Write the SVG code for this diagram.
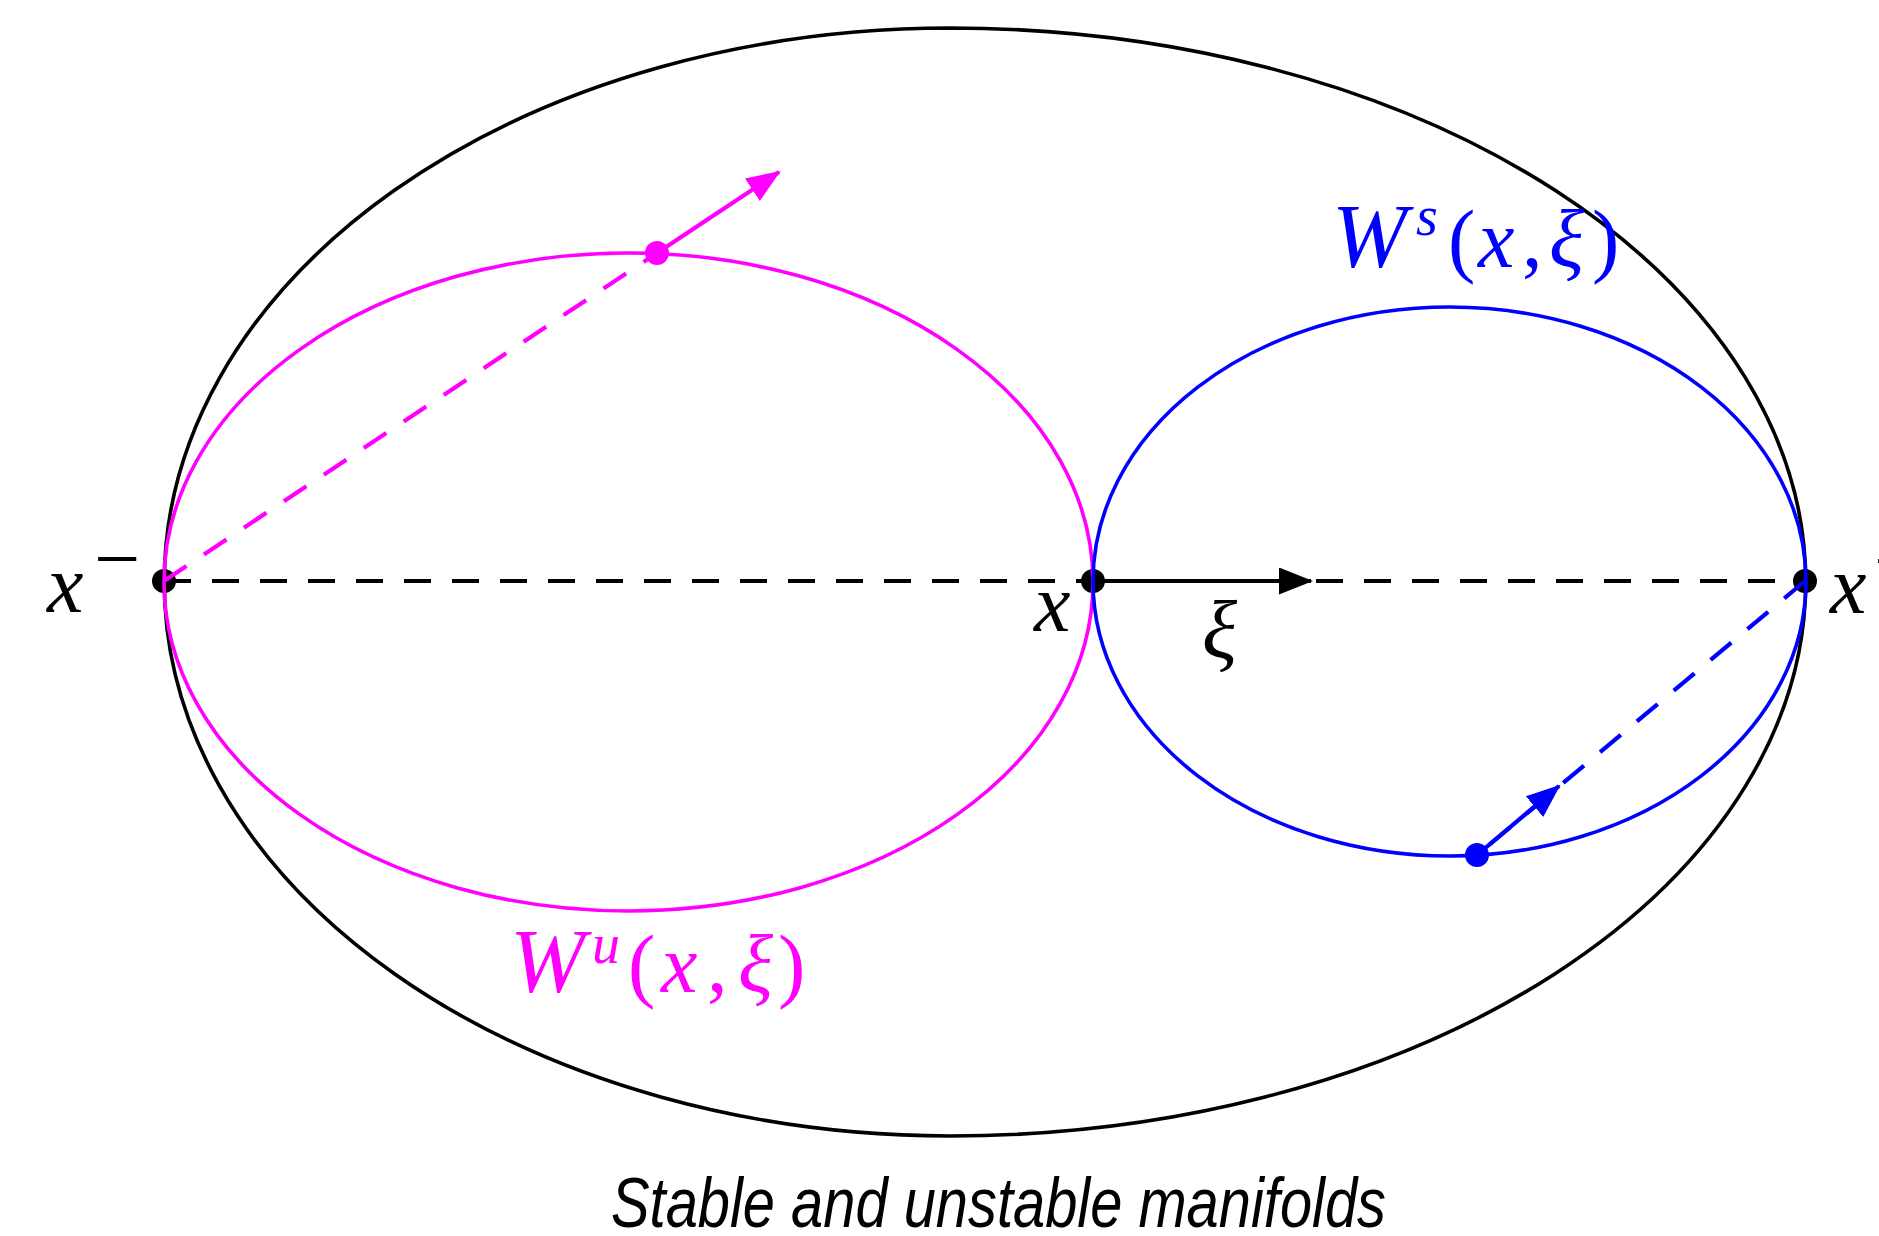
<svg xmlns="http://www.w3.org/2000/svg" width="1879" height="1236" viewBox="0 0 1879 1236">
<style>
.curve{fill:none;stroke-width:3.6}
.dash{fill:none;stroke-width:4.2;stroke-dasharray:27 21}
.vec{fill:none;stroke-width:4.2}
.math{font-family:"Liberation Serif","DejaVu Serif",serif;font-size:82px}
.it{font-style:italic}
.up{font-style:normal}
.title{font-family:"Liberation Sans","DejaVu Sans",sans-serif;font-style:italic;font-size:70px;fill:#000}
</style>
<defs>
<marker id="ahK" viewBox="0 0 34 27" refX="32" refY="13.5" markerWidth="34" markerHeight="27" markerUnits="userSpaceOnUse" orient="auto"><path d="M0,0 L34,13.5 L0,27 Z" fill="#000"/></marker>
<marker id="ahM" viewBox="0 0 34 27" refX="32" refY="13.5" markerWidth="34" markerHeight="27" markerUnits="userSpaceOnUse" orient="auto"><path d="M0,0 L34,13.5 L0,27 Z" fill="#ff00ff"/></marker>
<marker id="ahB" viewBox="0 0 34 27" refX="32" refY="13.5" markerWidth="34" markerHeight="27" markerUnits="userSpaceOnUse" orient="auto"><path d="M0,0 L34,13.5 L0,27 Z" fill="#0000ff"/></marker>
</defs>
<rect width="1879" height="1236" fill="#fff"/>
<g id="outer"><path class="curve" stroke="#000" d="M950,28 A856,554 0 0 1 950,1136 A786,554 0 0 1 950,28 Z"/></g>
<g id="connectors">
<line class="dash" stroke="#000" x1="164" y1="581" x2="1806" y2="581"/>
<line class="vec" stroke="#000" x1="1093" y1="581" x2="1311" y2="581" marker-end="url(#ahK)"/>
</g>
<g id="node-xminus"><circle cx="164" cy="581" r="12" fill="#000"/></g>
<g id="node-x"><circle cx="1093" cy="581" r="12" fill="#000"/></g>
<g id="node-xplus"><circle cx="1805" cy="581" r="12" fill="#000"/></g>
<g id="Wu"><ellipse class="curve" stroke="#ff00ff" cx="628.5" cy="582" rx="464.5" ry="329"/></g>
<g id="Ws"><ellipse class="curve" stroke="#0000ff" cx="1449.5" cy="581.5" rx="356.5" ry="274.5"/></g>
<g id="connectors-colored">
<line class="dash" stroke="#ff00ff" x1="164" y1="581" x2="657" y2="253"/>
<line class="vec" stroke="#ff00ff" x1="657" y1="253" x2="779" y2="172" marker-end="url(#ahM)"/>
<line class="dash" stroke="#0000ff" x1="1805" y1="581" x2="1477" y2="855"/>
<line class="vec" stroke="#0000ff" x1="1477" y1="855" x2="1559" y2="786" marker-end="url(#ahB)"/>
</g>
<g id="node-pm"><circle cx="657" cy="253" r="12" fill="#ff00ff"/></g>
<g id="node-pb"><circle cx="1477" cy="855" r="12" fill="#0000ff"/></g>
<g id="labels">
<text class="math it" x="47" y="612" font-size="76">x</text>
<text class="math up" x="94" y="586" font-size="56">−</text>
<text class="math it" x="1034" y="631" font-size="76">x</text>
<text class="math it" x="1830" y="613" font-size="76">x</text>
<text class="math up" x="1874" y="588" font-size="56">+</text>
<text class="math it" x="1202" y="658" font-size="80">ξ</text>
<text class="math" fill="#0000ff"><tspan class="it" x="1332" y="267" font-size="90">W</tspan><tspan class="it" x="1416" y="235" font-size="56">s</tspan><tspan class="up" x="1448" y="267">(</tspan><tspan class="it" x="1478" y="267">x</tspan><tspan class="up" x="1522" y="267">,</tspan><tspan class="it" x="1549" y="267">ξ</tspan><tspan class="up" x="1592" y="267">)</tspan></text>
<text class="math" fill="#ff00ff"><tspan class="it" x="510" y="992" font-size="90">W</tspan><tspan class="it" x="592" y="963" font-size="56">u</tspan><tspan class="up" x="628" y="992">(</tspan><tspan class="it" x="661" y="992">x</tspan><tspan class="up" x="707" y="992">,</tspan><tspan class="it" x="738" y="992">ξ</tspan><tspan class="up" x="778" y="992">)</tspan></text>
<text class="title" x="611" y="1227" textLength="775" lengthAdjust="spacingAndGlyphs">Stable and unstable manifolds</text>
</g>
</svg>
